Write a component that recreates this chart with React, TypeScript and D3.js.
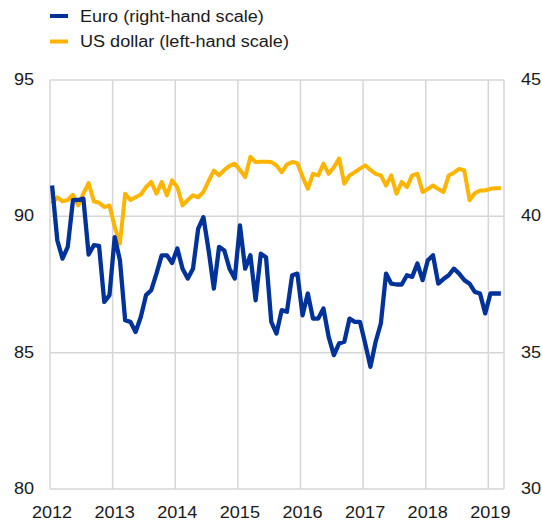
import React from "react";
import * as d3 from "d3";

// Monthly observations, Jan 2012 – Mar 2019
const startYear = 2012;
const usdValues = [
  90.47, 90.7, 90.55, 90.6, 90.79, 90.4, 90.83, 91.22, 90.55, 90.5, 90.34, 90.4,
  89.61, 89.0, 90.83, 90.6, 90.7, 90.8, 91.07, 91.26, 90.83, 91.26, 90.77, 91.32,
  91.07, 90.4, 90.6, 90.77, 90.7, 90.9, 91.3, 91.68, 91.5, 91.7, 91.85, 91.93,
  91.7, 91.44, 92.18, 91.99, 92.0, 92.0, 91.99, 91.87, 91.62, 91.9, 91.99, 91.95,
  91.45, 91.01, 91.56, 91.5, 91.93, 91.56, 91.8, 92.12, 91.2, 91.5, 91.62, 91.75,
  91.87, 91.7, 91.56, 91.5, 91.13, 91.5, 90.83, 91.26, 91.07, 91.5, 91.56, 90.89,
  91.0, 91.13, 91.0, 90.89, 91.5, 91.6, 91.74, 91.68, 90.59, 90.85, 90.95, 90.95,
  91.01, 91.03, 91.03,
];
const euroValues = [
  41.13, 39.12, 38.45, 38.88, 40.59, 40.6, 40.65, 38.6, 38.94, 38.92, 36.86, 37.11,
  39.24, 38.39, 36.19, 36.13, 35.76, 36.31, 37.11, 37.29, 37.9, 38.57, 38.57, 38.29,
  38.82, 38.08, 37.72, 38.08, 39.55, 39.97, 38.75, 37.35, 38.88, 38.75, 38.08, 37.72,
  39.67, 38.08, 38.57, 36.92, 38.63, 38.5, 36.13, 35.7, 36.56, 36.5, 37.84, 37.9,
  36.37, 37.17, 36.25, 36.25, 36.62, 35.58, 34.91, 35.34, 35.4, 36.25, 36.13, 36.13,
  35.34, 34.48, 35.4, 36.07, 37.9, 37.53, 37.5, 37.5, 37.84, 37.78, 38.27, 37.66,
  38.39, 38.57, 37.53, 37.7, 37.84, 38.08, 37.9, 37.66, 37.53, 37.23, 37.17, 36.44,
  37.17, 37.17, 37.17,
];
const yearLabels = ["2012", "2013", "2014", "2015", "2016", "2017", "2018", "2019"];
const leftTicks = [80, 85, 90, 95];
const rightTicks = [30, 35, 40, 45];
const seriesNames = ["Euro (right-hand scale)", "US dollar (left-hand scale)"];

const W = 542;
const H = 522;
const m = { left: 50, right: 504, top: 80, bottom: 489 };
const EURO = "#003299";
const USD = "#FFB400";
const GRID = "#d6d6d6";
const TXT = "#1a1a1a";
const FONT = "Liberation Sans, Arial, sans-serif";
const SX = 1.13;

function T({
  x,
  y,
  anchor = "start",
  baseline,
  children,
}: {
  x: number;
  y: number;
  anchor?: string;
  baseline?: string;
  children: React.ReactNode;
}) {
  return (
    <text
      transform={`translate(${x},${y}) scale(${SX},1)`}
      textAnchor={anchor}
      dominantBaseline={baseline}
      fontSize={16}
      fill={TXT}
    >
      {children}
    </text>
  );
}

export default function App() {
  const x = d3.scaleLinear().domain([0, 87]).range([m.left, m.right]);
  const yL = d3.scaleLinear().domain([80, 95]).range([m.bottom, m.top]);
  const yR = d3.scaleLinear().domain([30, 45]).range([m.bottom, m.top]);
  const off = 0.4;

  const usdLine = d3
    .line<number>()
    .x((_, i) => x(i + off))
    .y((d) => yL(d));
  const euroLine = d3
    .line<number>()
    .x((_, i) => x(i + off))
    .y((d) => yR(d));

  return (
    <svg
      width={W}
      height={H}
      style={{ position: "absolute", left: 0, top: 0, background: "#fff" }}
      fontFamily={FONT}
    >
      {/* legend */}
      <line x1={50} x2={68} y1={16} y2={16} stroke={EURO} strokeWidth={4} />
      <T x={80} y={22}>{seriesNames[0]}</T>
      <line x1={50} x2={68} y1={41.5} y2={41.5} stroke={USD} strokeWidth={4} />
      <T x={80} y={47}>{seriesNames[1]}</T>

      {/* horizontal grid */}
      {leftTicks.map((t) => (
        <line
          key={"h" + t}
          x1={m.left}
          x2={m.right}
          y1={yL(t)}
          y2={yL(t)}
          stroke={GRID}
          strokeWidth={1.5}
        />
      ))}
      {/* vertical grid */}
      {yearLabels.map((_, i) => (
        <line
          key={"v" + i}
          x1={x(i * 12)}
          x2={x(i * 12)}
          y1={m.top}
          y2={m.bottom}
          stroke={GRID}
          strokeWidth={1.5}
        />
      ))}
      <line x1={m.right} x2={m.right} y1={m.top} y2={m.bottom} stroke={GRID} strokeWidth={1.5} />

      {/* left axis labels */}
      {leftTicks.map((t) => (
        <T key={"l" + t} x={34} y={yL(t)} anchor="end" baseline="central">
          {t}
        </T>
      ))}
      {/* right axis labels */}
      {rightTicks.map((t) => (
        <T key={"r" + t} x={521} y={yR(t)} anchor="start" baseline="central">
          {t}
        </T>
      ))}
      {/* x labels */}
      {yearLabels.map((lab, i) => (
        <T key={"x" + lab} x={x(i * 12) + 2} y={518} anchor="middle">
          {lab}
        </T>
      ))}

      <path
        d={usdLine(usdValues) || ""}
        fill="none"
        stroke={USD}
        strokeWidth={4}
        strokeLinejoin="round"
      />
      <path
        d={euroLine(euroValues) || ""}
        fill="none"
        stroke={EURO}
        strokeWidth={4.3}
        strokeLinejoin="round"
      />
    </svg>
  );
}
